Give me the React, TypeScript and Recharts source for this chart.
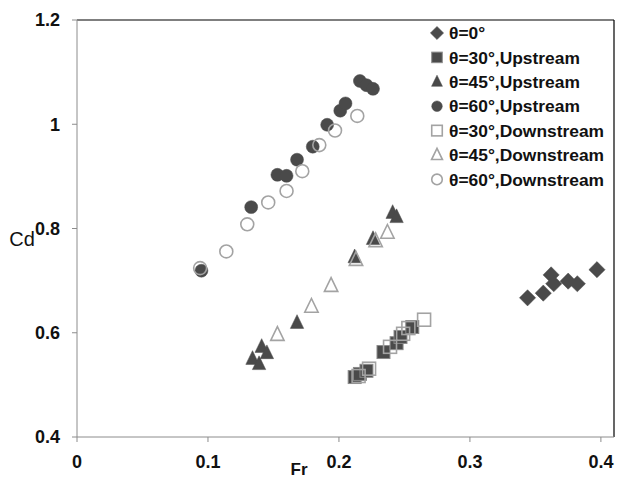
import React from 'react';
import { ScatterChart, Scatter, XAxis, YAxis, ReferenceLine, Customized } from 'recharts';

const FONT = '"Liberation Sans", Arial, sans-serif';
const DARK = '#4a4a4a';
const LIGHT = '#a3a3a3';

const theta0 = [
  { fr: 0.344, cd: 0.667 },
  { fr: 0.356, cd: 0.676 },
  { fr: 0.362, cd: 0.711 },
  { fr: 0.364, cd: 0.694 },
  { fr: 0.375, cd: 0.699 },
  { fr: 0.382, cd: 0.694 },
  { fr: 0.397, cd: 0.721 },
];
const theta30Up = [
  { fr: 0.212, cd: 0.515 },
  { fr: 0.216, cd: 0.521 },
  { fr: 0.221, cd: 0.527 },
  { fr: 0.234, cd: 0.563 },
  { fr: 0.244, cd: 0.58 },
  { fr: 0.247, cd: 0.592 },
  { fr: 0.256, cd: 0.611 },
];
const theta45Up = [
  { fr: 0.134, cd: 0.55 },
  { fr: 0.139, cd: 0.54 },
  { fr: 0.141, cd: 0.573 },
  { fr: 0.145, cd: 0.561 },
  { fr: 0.168, cd: 0.619 },
  { fr: 0.212, cd: 0.745 },
  { fr: 0.226, cd: 0.78 },
  { fr: 0.241, cd: 0.83 },
  { fr: 0.244, cd: 0.822 },
];
const theta60Up = [
  { fr: 0.095, cd: 0.719 },
  { fr: 0.133, cd: 0.841 },
  { fr: 0.153, cd: 0.903 },
  { fr: 0.160, cd: 0.901 },
  { fr: 0.168, cd: 0.932 },
  { fr: 0.180, cd: 0.957 },
  { fr: 0.191, cd: 0.999 },
  { fr: 0.201, cd: 1.026 },
  { fr: 0.205, cd: 1.04 },
  { fr: 0.216, cd: 1.083 },
  { fr: 0.221, cd: 1.075 },
  { fr: 0.226, cd: 1.068 },
];
const theta30Down = [
  { fr: 0.215, cd: 0.517 },
  { fr: 0.223, cd: 0.531 },
  { fr: 0.239, cd: 0.573 },
  { fr: 0.249, cd: 0.598 },
  { fr: 0.253, cd: 0.609 },
  { fr: 0.265, cd: 0.625 },
];
const theta45Down = [
  { fr: 0.153, cd: 0.596 },
  { fr: 0.179, cd: 0.65 },
  { fr: 0.194, cd: 0.69 },
  { fr: 0.213, cd: 0.74 },
  { fr: 0.228, cd: 0.776 },
  { fr: 0.237, cd: 0.792 },
];
const theta60Down = [
  { fr: 0.094, cd: 0.724 },
  { fr: 0.114, cd: 0.756 },
  { fr: 0.130, cd: 0.808 },
  { fr: 0.146, cd: 0.85 },
  { fr: 0.160, cd: 0.872 },
  { fr: 0.172, cd: 0.91 },
  { fr: 0.185, cd: 0.96 },
  { fr: 0.197, cd: 0.988 },
  { fr: 0.214, cd: 1.016 },
];

const xTicks = [0, 0.1, 0.2, 0.3, 0.4];
const yTicks = [0.4, 0.6, 0.8, 1, 1.2];

type Kind = 'diamond' | 'square' | 'triangle' | 'circle';

function marker(kind: Kind, filled: boolean, cx: number, cy: number, s: number) {
  const fill = filled ? DARK : 'none';
  const stroke = filled ? (kind === 'square' ? '#8a8a8a' : DARK) : LIGHT;
  const sw = filled ? (kind === 'square' ? 1 : 0.5) : 1.6;
  if (kind === 'diamond') {
    const r = s * 0.6;
    return <path d={`M${cx},${cy - r}L${cx + r},${cy}L${cx},${cy + r}L${cx - r},${cy}Z`} fill={fill} stroke={stroke} strokeWidth={sw} />;
  }
  if (kind === 'square') {
    const h = s * 0.48;
    return <rect x={cx - h} y={cy - h} width={2 * h} height={2 * h} fill={fill} stroke={stroke} strokeWidth={sw} />;
  }
  if (kind === 'triangle') {
    const h = s * 0.55;
    return <path d={`M${cx},${cy - h * 1.1}L${cx + h * 0.9},${cy + h * 0.75}L${cx - h * 0.9},${cy + h * 0.75}Z`} fill={fill} stroke={stroke} strokeWidth={sw} />;
  }
  return <circle cx={cx} cy={cy} r={s * 0.48} fill={fill} stroke={stroke} strokeWidth={sw} />;
}

const makeShape = (kind: Kind, filled: boolean) => (props: any) => {
  const { cx, cy } = props;
  if (cx == null || cy == null) return <g />;
  return marker(kind, filled, cx, cy, 13.5);
};

const seriesList: { name: string; data: { fr: number; cd: number }[]; kind: Kind; filled: boolean }[] = [
  { name: 'θ=0°', data: theta0, kind: 'diamond', filled: true },
  { name: 'θ=30°,Upstream', data: theta30Up, kind: 'square', filled: true },
  { name: 'θ=45°,Upstream', data: theta45Up, kind: 'triangle', filled: true },
  { name: 'θ=60°,Upstream', data: theta60Up, kind: 'circle', filled: true },
  { name: 'θ=30°,Downstream', data: theta30Down, kind: 'square', filled: false },
  { name: 'θ=45°,Downstream', data: theta45Down, kind: 'triangle', filled: false },
  { name: 'θ=60°,Downstream', data: theta60Down, kind: 'circle', filled: false },
];

const LegendAndLabels = () => (
  <g>
    {seriesList.map((s, i) => {
      const y = 33 + i * 24.4;
      return (
        <g key={s.name}>
          {marker(s.kind, s.filled, 437, y, 11)}
          <text x={449} y={y} dy="0.36em" fontFamily={FONT} fontWeight="bold" fontSize={17.4} fill="#111">
            {s.name}
          </text>
        </g>
      );
    })}
    <text x={22} y={239} dy="0.36em" textAnchor="middle" fontFamily={FONT} fontSize={20} fill="#111">Cd</text>
    <text x={299} y={469} dy="0.36em" textAnchor="middle" fontFamily={FONT} fontWeight="bold" fontSize={17} fill="#111">Fr</text>
  </g>
);

export default function App() {
  return (
    <div style={{ position: 'absolute', left: 0, top: 0, width: 617, height: 481, background: '#fff' }}>
      <ScatterChart width={617} height={481} margin={{ top: 20, right: 3, bottom: 14, left: 0 }}>
        <XAxis
          type="number"
          dataKey="fr"
          domain={[0, 0.41]}
          ticks={xTicks}
          allowDataOverflow
          stroke="#8c8c8c"
          tickLine={{ stroke: '#8c8c8c' }}
          tickSize={5}
          tickMargin={13}
          height={30}
          tickFormatter={(v: number) => String(v)}
          tick={{ fill: '#111', fontSize: 18, fontWeight: 'bold', fontFamily: FONT }}
        />
        <YAxis
          type="number"
          dataKey="cd"
          domain={[0.4, 1.2]}
          ticks={yTicks}
          allowDataOverflow
          stroke="#8c8c8c"
          tickLine={{ stroke: '#8c8c8c' }}
          tickSize={5}
          tickMargin={12}
          width={77}
          tickFormatter={(v: number) => String(v)}
          tick={{ fill: '#111', fontSize: 18, fontWeight: 'bold', fontFamily: FONT }}
        />
        <ReferenceLine y={1.2} stroke="#000" strokeWidth={1.2} />
        <ReferenceLine x={0.41} stroke="#000" strokeWidth={1.2} />
        {seriesList.map((s) => (
          <Scatter
            key={s.name}
            name={s.name}
            data={s.data}
            shape={makeShape(s.kind, s.filled)}
            isAnimationActive={false}
          />
        ))}
        <Customized component={LegendAndLabels} />
      </ScatterChart>
    </div>
  );
}
